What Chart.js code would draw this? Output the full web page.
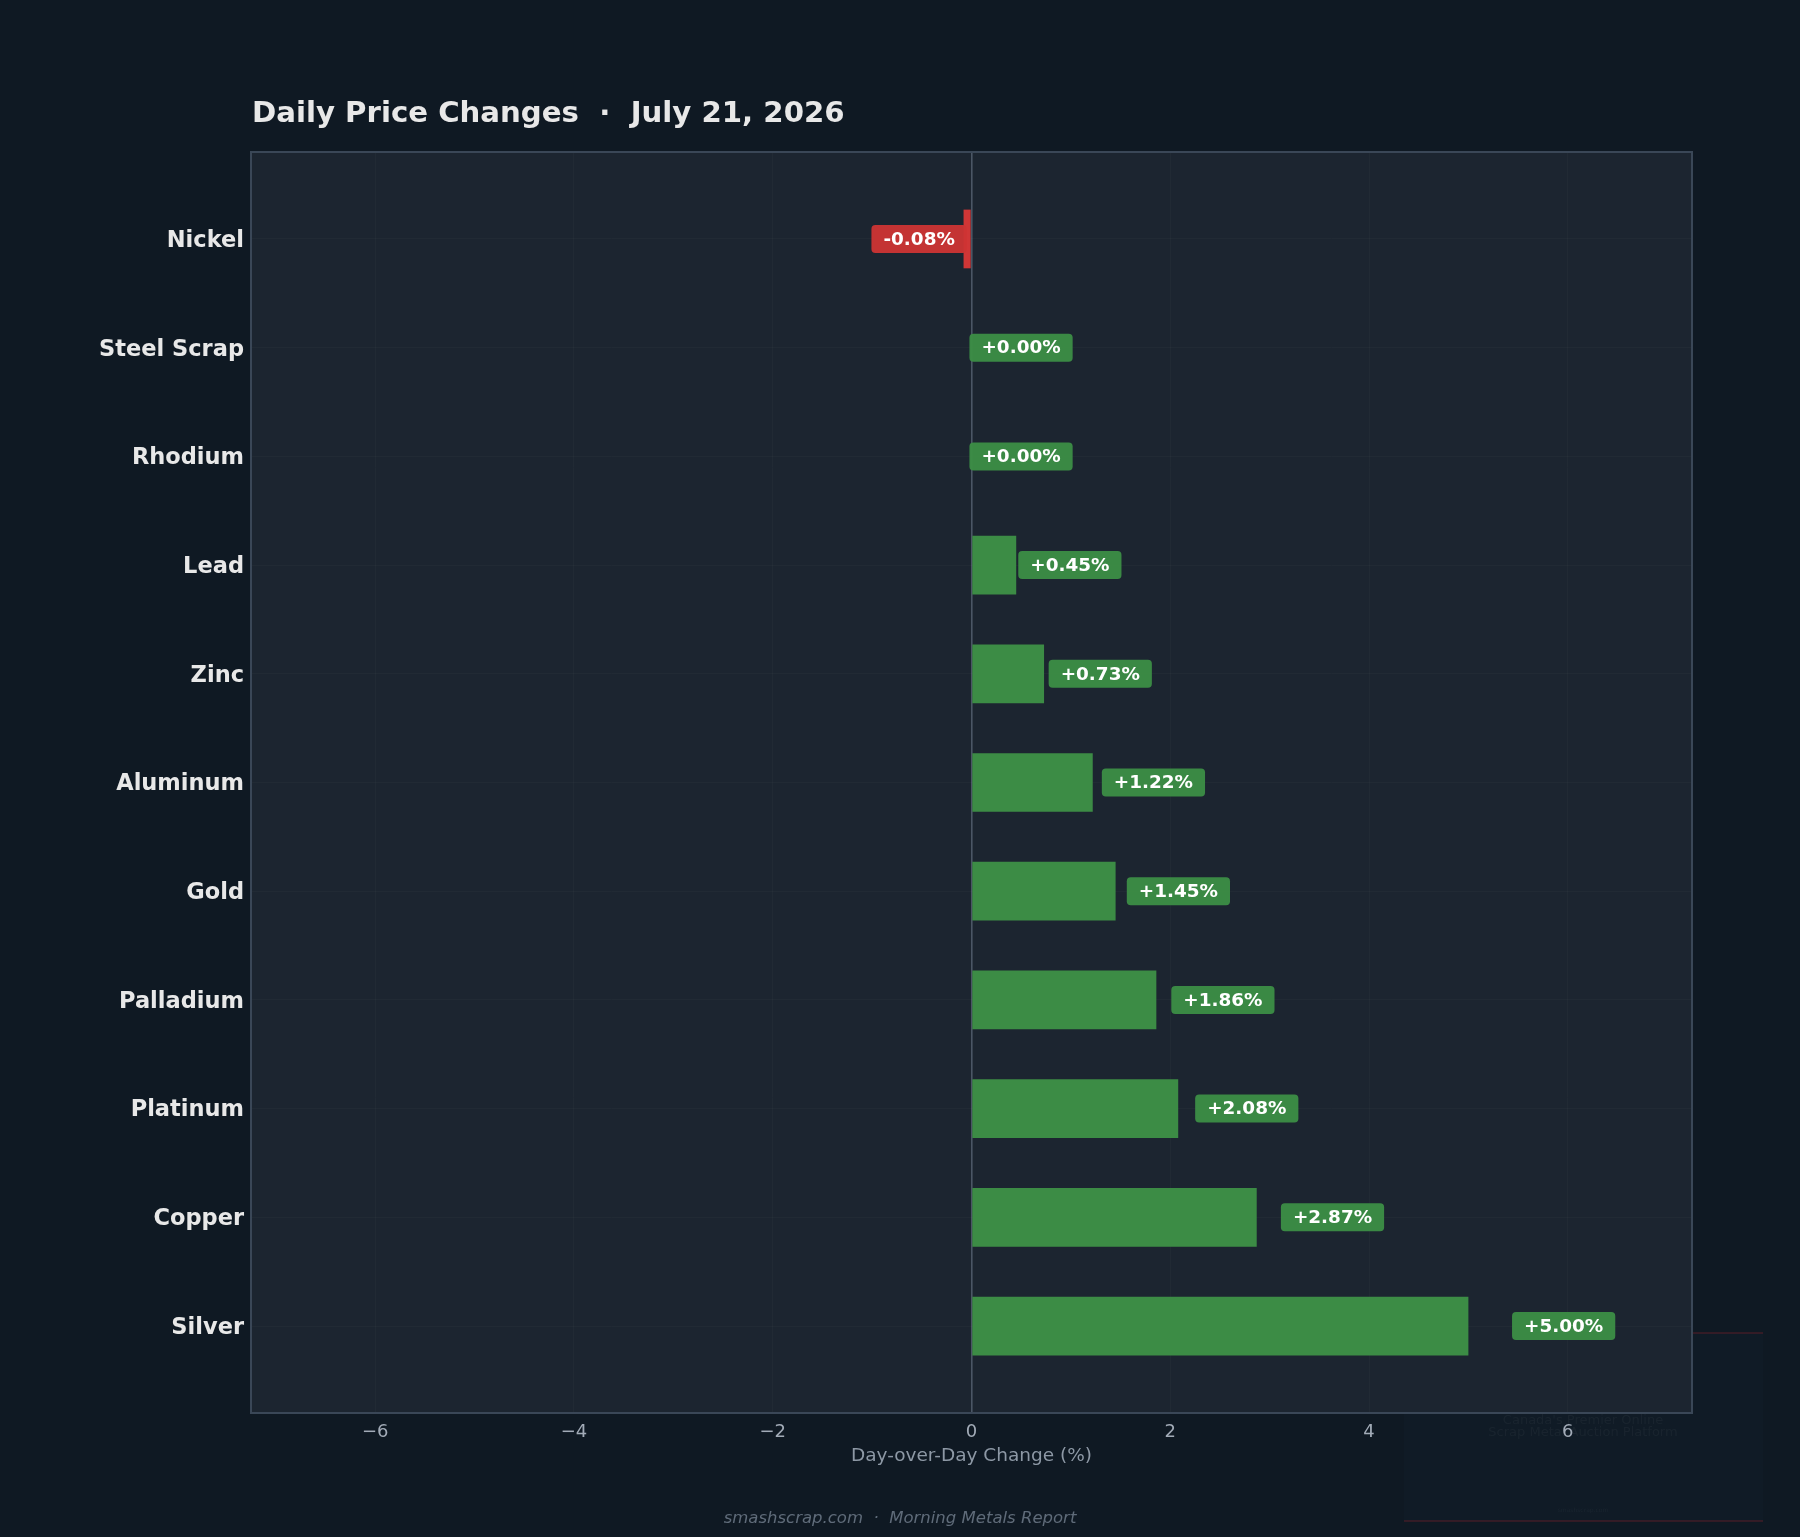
<!DOCTYPE html>
<html>
<head>
<meta charset="utf-8">
<title>Daily Price Changes</title>
<script src="https://cdn.jsdelivr.net/npm/chart.js@4.4.1/dist/chart.umd.min.js"></script>
<style>
  body { margin: 0; background: #0f1923; }
  canvas { display: block; }
</style>
</head>
<body>
<canvas id="chart" width="1800" height="1537"></canvas>
<script>
// data
const metals = ['Nickel', 'Steel Scrap', 'Rhodium', 'Lead', 'Zinc', 'Aluminum', 'Gold', 'Palladium', 'Platinum', 'Copper', 'Silver'];
const changes = [-0.08, 0.00, 0.00, 0.45, 0.73, 1.22, 1.45, 1.86, 2.08, 2.87, 5.00];
const xTicks = [-6, -4, -2, 0, 2, 4, 6];

const FONT = '"DejaVu Sans", "Noto Sans", sans-serif';
const GREEN = '#3c8c45';
const RED = '#d03636';

// background, watermark, plot panel, border and the texts around it
const framePlugin = {
    id: 'frame',
    beforeDraw(chart) {
        const ctx = chart.ctx, a = chart.chartArea;
        ctx.save();
        ctx.fillStyle = '#0f1923';
        ctx.fillRect(0, 0, chart.width, chart.height);

        // faint promo box behind the plot, bottom right
        ctx.fillStyle = 'rgba(20,32,48,0.3)';
        ctx.fillRect(1404, 1333, 359, 188);
        ctx.fillStyle = 'rgba(120,32,44,0.35)';
        ctx.fillRect(1404, 1332, 359, 2);
        ctx.fillRect(1404, 1520, 359, 2);
        ctx.fillStyle = 'rgba(255,255,255,0.04)';
        ctx.font = '13px ' + FONT;
        ctx.textAlign = 'center';
        ctx.textBaseline = 'middle';
        ctx.fillText("Canada's Premier Online", 1583, 1421);
        ctx.fillText('Scrap Metal Auction Platform', 1583, 1433);
        ctx.font = '6px ' + FONT;
        ctx.fillText('smashscrap.com', 1583, 1510);

        ctx.fillStyle = '#1c2530';
        ctx.fillRect(a.left, a.top, a.right - a.left, a.bottom - a.top);
        ctx.restore();
    },
    afterDraw(chart) {
        const ctx = chart.ctx, a = chart.chartArea;
        ctx.save();
        ctx.strokeStyle = '#3a4757';
        ctx.lineWidth = 2;
        ctx.strokeRect(a.left, a.top, a.right - a.left, a.bottom - a.top);

        ctx.fillStyle = '#e8e8e8';
        ctx.font = 'bold 29.2px ' + FONT;
        ctx.textAlign = 'left';
        ctx.textBaseline = 'alphabetic';
        ctx.fillText('Daily Price Changes  \u00b7  July 21, 2026', a.left + 1, 122);

        ctx.fillStyle = '#8d98a5';
        ctx.font = '18.5px ' + FONT;
        ctx.textAlign = 'center';
        ctx.textBaseline = 'middle';
        ctx.fillText('Day-over-Day Change (%)', (a.left + a.right) / 2, 1456);

        ctx.fillStyle = '#5f6b79';
        ctx.font = 'italic 16.5px ' + FONT;
        ctx.fillText('smashscrap.com  \u00b7  Morning Metals Report', chart.width / 2, 1519);
        ctx.restore();
    }
};

// rounded value tags next to each bar
const tagPlugin = {
    id: 'tags',
    afterDatasetsDraw(chart) {
        const ctx = chart.ctx;
        const xs = chart.scales.x, ys = chart.scales.y;
        ctx.save();
        ctx.font = 'bold 18.4px ' + FONT;
        ctx.textBaseline = 'middle';
        ctx.textAlign = 'left';
        for (let i = 0; i < changes.length; i++) {
            const v = changes[i];
            const txt = (v < 0 ? '' : '+') + v.toFixed(2) + '%';
            const w = ctx.measureText(txt).width;
            const y = ys.getPixelForValue(i);
            let left;
            if (v >= 0) left = xs.getPixelForValue(v * 1.092 + 0.1);
            else left = xs.getPixelForValue(v * 1.092 - 0.08) - w;
            ctx.fillStyle = v < 0 ? 'rgba(205,52,52,0.95)' : 'rgba(60,140,69,0.97)';
            ctx.beginPath();
            ctx.roundRect(left - 12, y - 14, w + 24, 28, 4);
            ctx.fill();
            ctx.fillStyle = '#ffffff';
            ctx.fillText(txt, left, y + 1);
        }
        ctx.restore();
    }
};

new Chart(document.getElementById('chart'), {
    type: 'bar',
    data: {
        datasets: [{
            data: changes.map((v, i) => ({ x: v, y: i })),
            backgroundColor: changes.map(v => v < 0 ? RED : GREEN),
            borderWidth: 0,
            categoryPercentage: 1,
            barPercentage: 0.54
        }]
    },
    options: {
        indexAxis: 'y',
        responsive: false,
        devicePixelRatio: 1,
        animation: false,
        layout: { padding: { top: 152, right: 108, left: 0, bottom: 0 } },
        plugins: {
            legend: { display: false },
            tooltip: { enabled: false }
        },
        scales: {
            x: {
                type: 'linear',
                min: -7.25,
                max: 7.25,
                afterBuildTicks: s => { s.ticks = xTicks.map(v => ({ value: v })); },
                afterFit: s => { s.height = 124; },
                border: { display: false },
                grid: {
                    drawTicks: false,
                    color: c => c.tick && c.tick.value === 0 ? '#4b5665' : 'rgba(255,255,255,0.025)',
                    lineWidth: c => c.tick && c.tick.value === 0 ? 1.6 : 1
                },
                ticks: {
                    padding: 9,
                    color: '#a2abb7',
                    font: { family: FONT, size: 18 },
                    callback: v => v < 0 ? '\u2212' + Math.abs(v) : String(v)
                }
            },
            y: {
                type: 'linear',
                reverse: true,
                offset: false,
                min: -0.8,
                max: 10.8,
                afterBuildTicks: s => { s.ticks = metals.map((m, i) => ({ value: i })); },
                afterFit: s => { s.width = 251; },
                border: { display: false },
                grid: {
                    offset: false,
                    drawTicks: false,
                    color: 'rgba(255,255,255,0.022)'
                },
                ticks: {
                    padding: 7,
                    labelOffset: 2,
                    color: '#e8e8e8',
                    font: { family: FONT, size: 22.5, weight: 'bold' },
                    callback: v => metals[v]
                }
            }
        }
    },
    plugins: [framePlugin, tagPlugin]
});
</script>
</body>
</html>
